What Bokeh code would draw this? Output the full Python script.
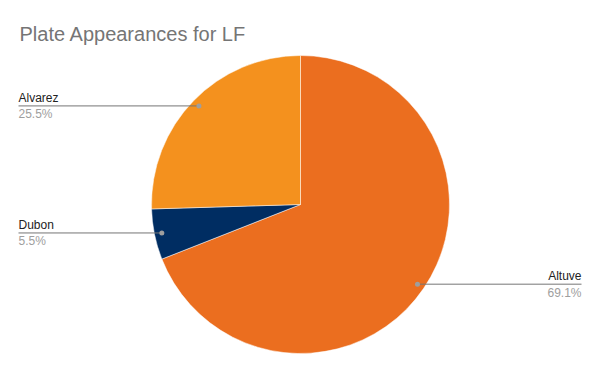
import numpy as np
from bokeh.plotting import figure
from bokeh.models import Range1d, ColumnDataSource
from bokeh.core.properties import value
from bokeh.embed import file_html
from bokeh.resources import INLINE

# ---- data ----
title_text = "Plate Appearances for LF"
names = ["Altuve", "Dubon", "Alvarez"]
percents = [69.1, 5.5, 25.5]
colors = ["#EB6E1F", "#002D62", "#F4911E"]

# ---- layout ----
W, H = 584, 355
cx, cy, R = 300, 151, 149
dot_r = 0.95 * R
left_x, right_x = 18, 581

p = figure(width=W, height=H, output_backend="svg", toolbar_location=None,
           x_range=Range1d(0, W), y_range=Range1d(0, H), min_border=0)
p.axis.visible = False
p.grid.visible = False
p.outline_line_color = None
p.background_fill_color = "white"
p.border_fill_color = "white"

vals = np.array(percents, dtype=float)
frac = vals / vals.sum()
cum = np.concatenate([[0], np.cumsum(frac)])
starts = np.pi / 2 - cum[1:] * 2 * np.pi
ends = np.pi / 2 - cum[:-1] * 2 * np.pi
mids = (starts + ends) / 2

src = ColumnDataSource(dict(start=starts, end=ends, color=colors,
                            x=[cx] * len(names), y=[cy] * len(names)))
p.wedge(x="x", y="y", radius=R, start_angle="start", end_angle="end",
        fill_color="color", line_color="white", line_width=0.5, source=src)

dx = cx + dot_r * np.cos(mids)
dy = cy + dot_r * np.sin(mids)
is_left = np.cos(mids) < 0
lx = np.where(is_left, left_x, right_x)
align = ["left" if l else "right" for l in is_left]

p.segment(x0=dx, y0=dy, x1=lx, y1=dy, line_color="#757575", line_width=1)
p.scatter(x=dx, y=dy, size=5, fill_color="#9e9e9e", line_color=None)

lab = ColumnDataSource(dict(x=lx, y=dy + 8, y2=dy - 8.5, name=names,
                            pct=[f"{v:.1f}%" for v in percents], align=align))
p.text(x="x", y="y", text="name", text_align="align", text_baseline="alphabetic",
       text_font=value("Liberation Sans"), text_font_size="12px",
       text_color="#222222", source=lab)
p.text(x="x", y="y2", text="pct", text_align="align", text_baseline="alphabetic",
       text_font=value("Liberation Sans"), text_font_size="12px",
       text_color="#9e9e9e", source=lab)

p.text(x=[19], y=[322], text=[title_text], text_baseline="alphabetic",
       text_font=value("Liberation Sans"), text_font_size="20px",
       text_color="#757575")

open("out.html", "w").write(file_html(p, INLINE))
